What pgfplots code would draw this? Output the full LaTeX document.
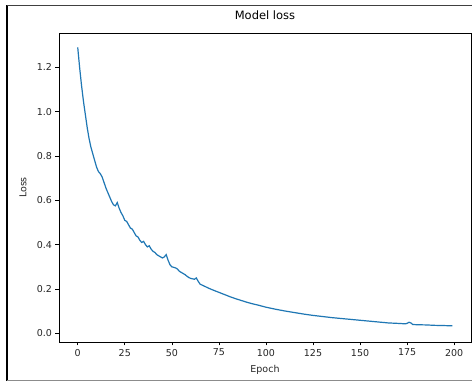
\documentclass[border=0pt]{standalone}
\usepackage{pgfplots}
\pgfplotsset{compat=1.18}
\usepackage{fontspec}
\setmainfont{DejaVu Sans}
\definecolor{mplblue}{HTML}{1F77B4}
\begin{document}
\begin{tikzpicture}[x=1pt,y=1pt]
\fill[white] (0,0) rectangle (472,385);
\useasboundingbox (0,0) rectangle (472,385);
\draw[black, line width=1.5pt] (7,4) -- (7,380);
\draw[black!75, line width=1.5pt] (7,379.5) -- (472,379.5);
\draw[black!45, line width=1pt] (7,4.5) -- (472,4.5);
\begin{axis}[
  at={(59pt,43pt)}, anchor=south west,
  scale only axis, width=412pt, height=309pt,
  xmin=-9.95, xmax=208.95, ymin=-0.039, ymax=1.355,
  xtick={0,25,50,75,100,125,150,175,200},
  ytick={0,0.2,0.4,0.6,0.8,1.0,1.2},
  yticklabel style={/pgf/number format/fixed, /pgf/number format/fixed zerofill, /pgf/number format/precision=1},
  /pgf/number format/assume math mode=true,
  tick align=outside, major tick length=3.5pt,
  tick style={black, line width=0.6pt},
  xtick pos=bottom, ytick pos=left,
  axis line style={black, line width=0.6pt},
  ticklabel style={font=\fontsize{9.5}{10}\selectfont, text=black!85},
  title={Model loss},
  title style={font=\fontsize{11.5}{12}\selectfont, at={(axis description cs:0.5,1)}, anchor=base, yshift=7pt},
  xlabel={Epoch}, ylabel={Loss},
  label style={font=\fontsize{9.5}{10}\selectfont, text=black!85},
  xlabel style={at={(axis description cs:0.5,0)}, anchor=center, yshift=-28pt},
  ylabel style={at={(axis description cs:0,0.5)}, anchor=center, rotate=0, yshift=36pt},
]
\addplot[mplblue, line width=1.2pt] coordinates {
(0,1.29) (1,1.20) (2,1.12) (3,1.05) (4,0.99) (5,0.93) (6,0.88) (7,0.84) (8,0.81) (9,0.78)
(10,0.75) (11,0.73) (12,0.72) (13,0.705) (14,0.68) (15,0.655) (16,0.635) (17,0.615) (18,0.595) (19,0.58)
(20,0.575) (21,0.59) (22,0.565) (23,0.545) (24,0.53) (25,0.51) (26,0.505) (27,0.49) (28,0.475) (29,0.47)
(30,0.455) (31,0.44) (32,0.435) (33,0.42) (34,0.41) (35,0.415) (36,0.40) (37,0.39) (38,0.395) (39,0.38)
(40,0.37) (41,0.365) (42,0.355) (43,0.35) (44,0.345) (45,0.34) (46,0.345) (47,0.355) (48,0.33) (49,0.31)
(50,0.30) (51,0.298) (52,0.295) (53,0.29) (54,0.28) (55,0.275) (56,0.27) (57,0.265) (58,0.258) (59,0.252)
(60,0.248) (61,0.246) (62,0.244) (63,0.25) (64,0.235) (65,0.222) (66,0.218) (67,0.214) (68,0.21)
(70,0.202) (72,0.195) (75,0.185) (78,0.175) (81,0.165) (84,0.156) (87,0.148) (90,0.140) (93,0.133) (96,0.127)
(100,0.118) (105,0.109) (110,0.101) (115,0.094) (120,0.087) (125,0.081) (130,0.076) (135,0.071) (140,0.067)
(145,0.063) (150,0.059) (155,0.055) (160,0.051) (165,0.047) (170,0.045) (174,0.043) (175,0.045) (176,0.050)
(177,0.047) (178,0.040) (180,0.039) (185,0.038) (190,0.036) (195,0.035) (199,0.034)
};
\end{axis}
\end{tikzpicture}
\end{document}
